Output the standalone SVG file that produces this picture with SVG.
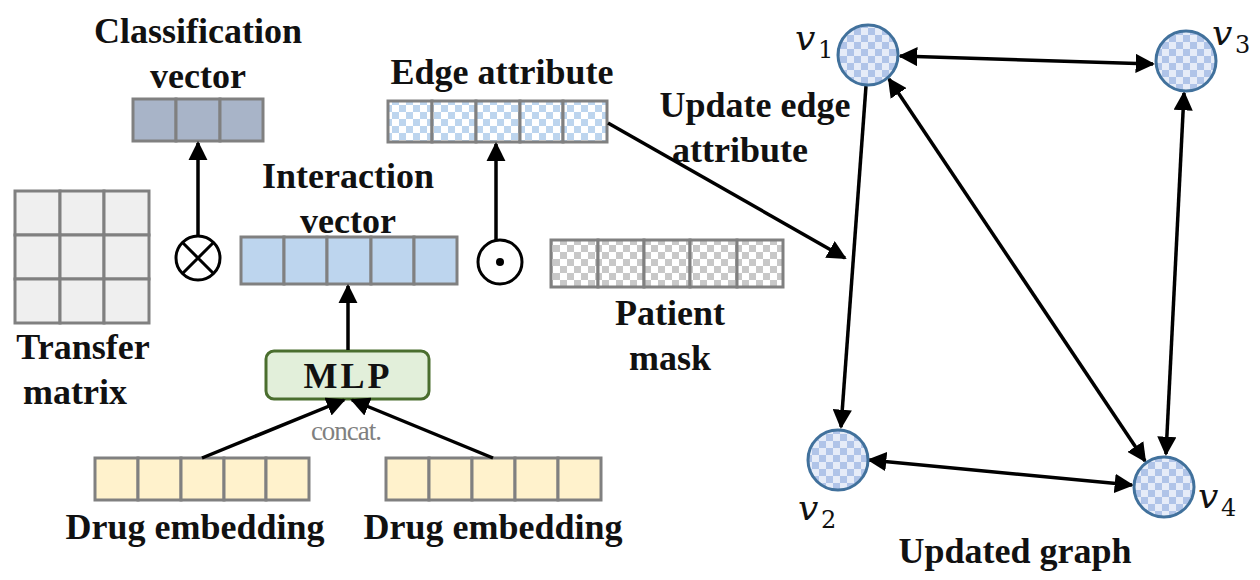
<svg xmlns="http://www.w3.org/2000/svg" width="1260" height="580" viewBox="0 0 1260 580">
<defs>
<pattern id="chkB" width="14" height="14" patternUnits="userSpaceOnUse"><rect width="14" height="14" fill="#fff"/><rect width="7" height="7" fill="#bdd5ee"/><rect x="7" y="7" width="7" height="7" fill="#bdd5ee"/></pattern>
<pattern id="chkG" width="14" height="14" patternUnits="userSpaceOnUse"><rect width="14" height="14" fill="#fff"/><rect width="7" height="7" fill="#c8c8c8"/><rect x="7" y="7" width="7" height="7" fill="#c8c8c8"/></pattern>
<pattern id="chkN" width="14" height="14" patternUnits="userSpaceOnUse"><rect width="14" height="14" fill="#e6ecf8"/><rect width="7" height="7" fill="#b0c4e8"/><rect x="7" y="7" width="7" height="7" fill="#b0c4e8"/></pattern>
<marker id="ah" viewBox="0 0 10 10" refX="9" refY="5" markerWidth="5.5" markerHeight="5.5" orient="auto-start-reverse"><path d="M0,0 L10,5 L0,10 z" fill="#000"/></marker>
</defs>
<style>
.t{font-family:"Liberation Serif",serif;font-weight:bold;font-size:36px;text-anchor:middle;fill:#111}
.c{stroke:#808080;stroke-width:3}
.ln{stroke:#000;stroke-width:3.5;fill:none}
.nd{fill:url(#chkN);stroke:#41719c;stroke-width:3}
.v{font-family:"DejaVu Serif",serif;font-style:italic;font-size:36px;fill:#111}
.s{font-family:"DejaVu Serif",serif;font-size:24px;fill:#111}
</style>
<g id="classification">
<text class="t" x="198" y="43">Classification</text>
<text class="t" x="198" y="88">vector</text>
<g class="c" fill="#a8b4c8"><rect x="133" y="99" width="43" height="42"/><rect x="176" y="99" width="44" height="42"/><rect x="220" y="99" width="43" height="42"/></g>
</g>
<g id="transfer">
<g class="c" fill="#efefef">
<rect x="15" y="191" width="45" height="44"/><rect x="60" y="191" width="44" height="44"/><rect x="104" y="191" width="45" height="44"/>
<rect x="15" y="235" width="45" height="44"/><rect x="60" y="235" width="44" height="44"/><rect x="104" y="235" width="45" height="44"/>
<rect x="15" y="279" width="45" height="44"/><rect x="60" y="279" width="44" height="44"/><rect x="104" y="279" width="45" height="44"/>
</g>
<text class="t" x="83" y="359">Transfer</text>
<text class="t" x="75" y="404">matrix</text>
</g>
<g id="otimes"><circle cx="198" cy="258" r="22" fill="#fff" stroke="#000" stroke-width="3"/><path d="M182.5,242.5 L213.5,273.5 M213.5,242.5 L182.5,273.5" stroke="#000" stroke-width="3"/></g>
<g id="interaction">
<text class="t" x="348" y="188">Interaction</text>
<text class="t" x="348" y="233">vector</text>
<g class="c" fill="#bdd5ee"><rect x="241" y="237" width="43" height="47"/><rect x="284" y="237" width="43" height="47"/><rect x="327" y="237" width="44" height="47"/><rect x="371" y="237" width="43" height="47"/><rect x="414" y="237" width="43" height="47"/></g>
</g>
<g id="mlp"><rect x="266" y="351" width="163" height="48" rx="8" fill="#e2efda" stroke="#4a6e2e" stroke-width="3"/><text class="t" x="348" y="388" style="letter-spacing:3px">MLP</text></g>
<g id="drug1">
<g class="c" fill="#fff2cc"><rect x="95" y="458" width="43" height="42"/><rect x="138" y="458" width="43" height="42"/><rect x="181" y="458" width="43" height="42"/><rect x="224" y="458" width="42" height="42"/><rect x="266" y="458" width="43" height="42"/></g>
<text class="t" x="195" y="539">Drug embedding</text>
</g>
<g id="drug2">
<g class="c" fill="#fff2cc"><rect x="386" y="458" width="43" height="42"/><rect x="429" y="458" width="43" height="42"/><rect x="472" y="458" width="43" height="42"/><rect x="515" y="458" width="43" height="42"/><rect x="558" y="458" width="43" height="42"/></g>
<text class="t" x="493" y="539">Drug embedding</text>
</g>
<text x="346" y="440" font-family="Liberation Serif,serif" font-size="27" fill="#808080" text-anchor="middle" letter-spacing="-1">concat.</text>
<g id="odot"><circle cx="500" cy="262" r="22" fill="#fff" stroke="#000" stroke-width="3"/><circle cx="500" cy="262" r="4" fill="#000"/></g>
<g id="edge">
<text class="t" x="502" y="84">Edge attribute</text>
<g class="c" fill="url(#chkB)"><rect x="388" y="101" width="44" height="41"/><rect x="432" y="101" width="44" height="41"/><rect x="476" y="101" width="44" height="41"/><rect x="520" y="101" width="43" height="41"/><rect x="563" y="101" width="44" height="41"/></g>
</g>
<g id="mask">
<g class="c" fill="url(#chkG)"><rect x="551" y="240" width="47" height="47"/><rect x="598" y="240" width="46" height="47"/><rect x="644" y="240" width="46" height="47"/><rect x="690" y="240" width="47" height="47"/><rect x="737" y="240" width="46" height="47"/></g>
<text class="t" x="670" y="325">Patient</text>
<text class="t" x="670" y="370">mask</text>
</g>
<g id="update-label"><text class="t" x="755" y="117">Update edge</text><text class="t" x="740" y="162">attribute</text></g>
<g id="connectors">
<line x1="198" y1="236" x2="198" y2="143" class="ln" marker-end="url(#ah)"/>
<line x1="496" y1="240" x2="496" y2="144" class="ln" marker-end="url(#ah)"/>
<line x1="348" y1="350" x2="348" y2="286" class="ln" marker-end="url(#ah)"/>
<line x1="202" y1="458" x2="344" y2="400" class="ln" marker-end="url(#ah)"/>
<line x1="493" y1="458" x2="352" y2="400" class="ln" marker-end="url(#ah)"/>
<line x1="608" y1="123" x2="845" y2="258" class="ln" marker-end="url(#ah)"/>
<line x1="900" y1="56" x2="1153" y2="64" class="ln" marker-start="url(#ah)" marker-end="url(#ah)"/>
<line x1="866" y1="86" x2="841" y2="427" class="ln" marker-end="url(#ah)"/>
<line x1="889" y1="79" x2="1145" y2="461" class="ln" marker-start="url(#ah)" marker-end="url(#ah)"/>
<line x1="1184" y1="93" x2="1166" y2="454" class="ln" marker-start="url(#ah)" marker-end="url(#ah)"/>
<line x1="869" y1="460" x2="1132" y2="485" class="ln" marker-start="url(#ah)" marker-end="url(#ah)"/>
</g>
<g id="v1"><circle cx="868" cy="55" r="30" class="nd"/><text class="v" x="795" y="50">v</text><text class="s" x="818" y="58">1</text></g>
<g id="v3"><circle cx="1186" cy="61" r="30" class="nd"/><text class="v" x="1212" y="45">v</text><text class="s" x="1235" y="53">3</text></g>
<g id="v2"><circle cx="838" cy="460" r="30" class="nd"/><text class="v" x="798" y="520">v</text><text class="s" x="821" y="528">2</text></g>
<g id="v4"><circle cx="1164" cy="487" r="30" class="nd"/><text class="v" x="1198" y="508">v</text><text class="s" x="1221" y="516">4</text></g>
<text class="t" x="1015" y="563">Updated graph</text>
</svg>
